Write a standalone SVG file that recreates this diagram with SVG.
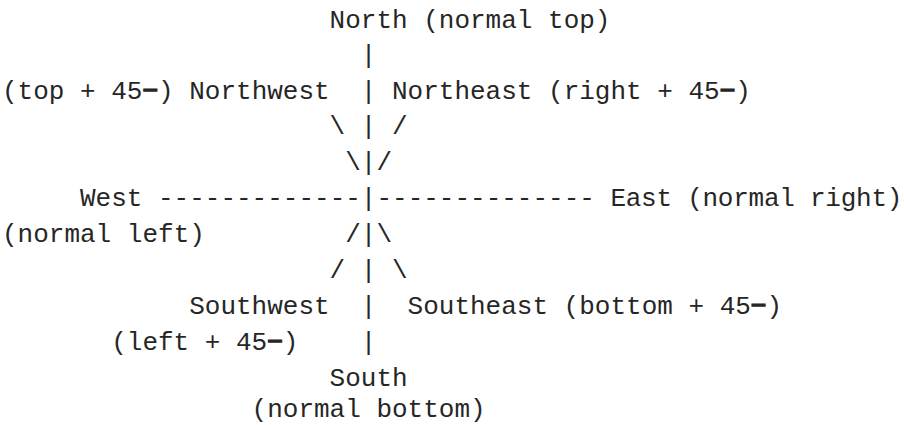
<svg xmlns="http://www.w3.org/2000/svg" width="904" height="425" viewBox="0 0 904 425" xml:space="preserve">
<style>
text { font-family: "Courier New", "Nimbus Mono PS", "Nimbus Mono L", "FreeMono", "Liberation Mono", monospace; font-size: 26px; fill: #262626; white-space: pre; }
.deg { stroke: #262626; stroke-width: 1.6px; }
</style>
<rect width="904" height="425" fill="#fff"/>
<g id="north">
<text x="329.6" y="28">North (normal top)</text>
</g>
<g id="northwest">
<text x="2" y="98.5">(top + 45<tspan class="deg">−</tspan>) Northwest</text>
</g>
<g id="northeast">
<text x="392" y="98.5">Northeast (right + 45<tspan class="deg">−</tspan>)</text>
</g>
<g id="west">
<text x="80" y="206">West</text>
<text x="2" y="241.8">(normal left)</text>
</g>
<g id="east">
<text x="610.4" y="206" letter-spacing="-0.25">East (normal right)</text>
</g>
<g id="southwest">
<text x="189.2" y="313.5">Southwest</text>
<text x="111.2" y="349.5">(left + 45<tspan class="deg">−</tspan>)</text>
</g>
<g id="southeast">
<text x="407.6" y="313.5">Southeast (bottom + 45<tspan class="deg">−</tspan>)</text>
</g>
<g id="south">
<text x="329.6" y="385.5">South</text>
<text x="251.6" y="417">(normal bottom)</text>
</g>
<g id="connectors">
<text x="360.8" y="63">|</text>
<text x="360.8" y="98.5">|</text>
<text x="329.6" y="134.4">\ | /</text>
<text x="345.2" y="170.2">\|/</text>
<text x="158" y="206">-------------|--------------</text>
<text x="345.2" y="241.8">/|\</text>
<text x="329.6" y="277.6">/ | \</text>
<text x="360.8" y="313.5">|</text>
<text x="360.8" y="349.5">|</text>
</g>
</svg>
